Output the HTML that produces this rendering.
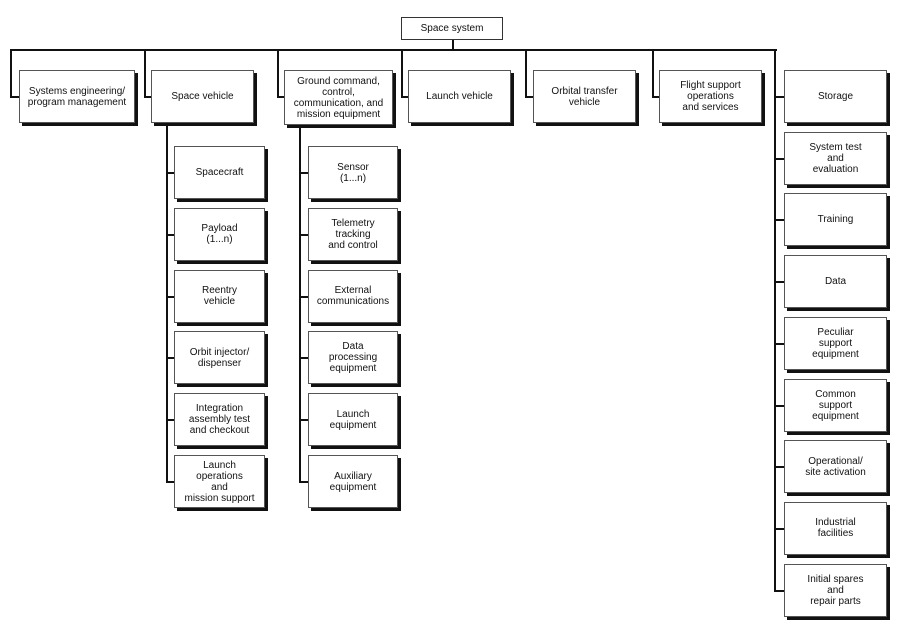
<!DOCTYPE html>
<html><head><meta charset="utf-8"><style>
body{margin:0;width:900px;height:628px;background:#fff;position:relative;overflow:hidden;font-family:"Liberation Sans","DejaVu Sans",sans-serif;}
.b{position:absolute;box-sizing:border-box;border:1px solid #555;background:#fff;box-shadow:3px 3px 0 #111;display:flex;align-items:center;justify-content:center;text-align:center;font-size:10px;line-height:11px;color:#111;}
.l{position:absolute;background:#111;}
</style></head><body>
<div class="b" style="left:401px;top:17px;width:102px;height:23px;box-shadow:none;border-color:#333">Space system</div>
<div class="l" style="left:452px;top:40px;width:2px;height:10px"></div>
<div class="l" style="left:10px;top:49px;width:767px;height:2px"></div>
<!-- level 1 connectors -->
<div class="l" style="left:10px;top:49px;width:2px;height:48px"></div><div class="l" style="left:10px;top:96px;width:9px;height:2px"></div>
<div class="l" style="left:144px;top:49px;width:2px;height:48px"></div><div class="l" style="left:144px;top:96px;width:7px;height:2px"></div>
<div class="l" style="left:277px;top:49px;width:2px;height:48px"></div><div class="l" style="left:277px;top:96px;width:7px;height:2px"></div>
<div class="l" style="left:401px;top:49px;width:2px;height:48px"></div><div class="l" style="left:401px;top:96px;width:7px;height:2px"></div>
<div class="l" style="left:525px;top:49px;width:2px;height:48px"></div><div class="l" style="left:525px;top:96px;width:8px;height:2px"></div>
<div class="l" style="left:652px;top:49px;width:2px;height:48px"></div><div class="l" style="left:652px;top:96px;width:7px;height:2px"></div>
<div class="l" style="left:774px;top:49px;width:2px;height:542px"></div>

<div class="b" style="left:19px;top:70px;width:116px;height:53px">Systems engineering/<br>program management</div>
<div class="b" style="left:151px;top:70px;width:103px;height:53px">Space vehicle</div>
<div class="b" style="left:284px;top:70px;width:109px;height:55px">Ground command,<br>control,<br>communication, and<br>mission equipment</div>
<div class="b" style="left:408px;top:70px;width:103px;height:53px">Launch vehicle</div>
<div class="b" style="left:533px;top:70px;width:103px;height:53px">Orbital transfer<br>vehicle</div>
<div class="b" style="left:659px;top:70px;width:103px;height:53px">Flight support<br>operations<br>and services</div>

<!-- space vehicle children -->
<div class="l" style="left:166px;top:123px;width:2px;height:359px"></div>
<div class="l" style="left:299px;top:125px;width:2px;height:357px"></div>
<div id="c"></div>
<script>
var sv=["Spacecraft","Payload<br>(1...n)","Reentry<br>vehicle","Orbit injector/<br>dispenser","Integration<br>assembly test<br>and checkout","Launch<br>operations<br>and<br>mission support"];
var gc=["Sensor<br>(1...n)","Telemetry<br>tracking<br>and control","External<br>communications","Data<br>processing<br>equipment","Launch<br>equipment","Auxiliary<br>equipment"];
var rc=["Storage","System test<br>and<br>evaluation","Training","Data","Peculiar<br>support<br>equipment","Common<br>support<br>equipment","Operational/<br>site activation","Industrial<br>facilities","Initial spares<br>and<br>repair parts"];
var h="";
for(var i=0;i<6;i++){var t=146+i*61.8;
h+='<div class="l" style="left:166px;top:'+(t+26)+'px;width:8px;height:2px"></div>';
h+='<div class="b" style="left:174px;top:'+t+'px;width:91px;height:53px">'+sv[i]+'</div>';
h+='<div class="l" style="left:299px;top:'+(t+26)+'px;width:9px;height:2px"></div>';
h+='<div class="b" style="left:308px;top:'+t+'px;width:90px;height:53px">'+gc[i]+'</div>';}
for(var j=0;j<9;j++){var t=70+j*61.7;
h+='<div class="l" style="left:774px;top:'+(t+26)+'px;width:10px;height:2px"></div>';
h+='<div class="b" style="left:784px;top:'+t+'px;width:103px;height:53px">'+rc[j]+'</div>';}
document.getElementById("c").outerHTML=h;
</script>
</body></html>
